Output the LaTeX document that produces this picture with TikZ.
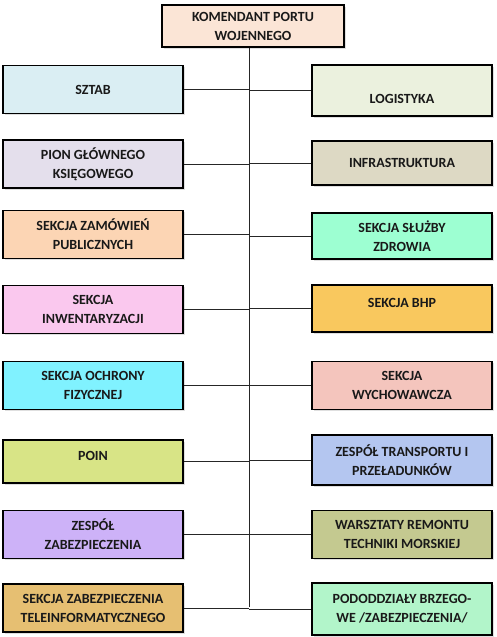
\documentclass[tikz,border=0pt]{standalone}
\usepackage{fontspec}
\setmainfont{Carlito}[BoldFont={Carlito Bold}]
\usetikzlibrary{shadows}

\definecolor{cTop}{HTML}{FBE5D6}
\definecolor{cSztab}{HTML}{DAEEF3}
\definecolor{cLogi}{HTML}{EBF1DE}
\definecolor{cPion}{HTML}{E4DFEC}
\definecolor{cInfra}{HTML}{DDD9C4}
\definecolor{cZam}{HTML}{FCD5B4}
\definecolor{cZdrow}{HTML}{9DFFD2}
\definecolor{cInwent}{HTML}{FAC8EE}
\definecolor{cBhp}{HTML}{F9C85E}
\definecolor{cOchr}{HTML}{80F2FF}
\definecolor{cWych}{HTML}{F4C5BD}
\definecolor{cPoin}{HTML}{D8E486}
\definecolor{cTransp}{HTML}{B4C6F0}
\definecolor{cZesp}{HTML}{CDB2F8}
\definecolor{cWarsz}{HTML}{C4C990}
\definecolor{cTele}{HTML}{E6BF72}
\definecolor{cPod}{HTML}{B2F5CA}

\tikzset{
  unit/.style={draw=black, line width=1.6pt, align=center, minimum width=180pt,
    minimum height=48pt, inner sep=2pt, text=black!90,
    font=\bfseries\fontsize{14}{19}\selectfont,
    drop shadow={shadow xshift=1.5pt, shadow yshift=-1.5pt, fill=black!25}},
  % single line text set higher or lower in its box
  textlow/.style={text height=26pt, text depth=0pt},
  texthigh/.style={text height=0pt, text depth=2pt},
  link/.style={draw=black!85, line width=0.8pt}
}

\begin{document}
\begin{tikzpicture}[x=1pt, y=-1pt]
  \useasboundingbox (0,0) rectangle (497,637);

  % head of the structure
  \node[unit, fill=cTop, minimum width=182pt, minimum height=42pt] (kpw) at (253,26) {KOMENDANT PORTU\\WOJENNEGO};

  % left column
  \node[unit, fill=cSztab] (sztab) at (93,89.5) {SZTAB};
  \node[unit, fill=cPion] (pion) at (93,164) {PION GŁÓWNEGO\\KSIĘGOWEGO};
  \node[unit, fill=cZam] (zam) at (93,234.5) {SEKCJA ZAMÓWIEŃ\\PUBLICZNYCH};
  \node[unit, fill=cInwent] (inwent) at (93,309.5) {SEKCJA\\INWENTARYZACJI};
  \node[unit, fill=cOchr] (ochr) at (93,385.5) {SEKCJA OCHRONY\\FIZYCZNEJ};
  \node[unit, texthigh, fill=cPoin, minimum height=43pt] (poin) at (93,461.5) {POIN};
  \node[unit, fill=cZesp] (zesp) at (93,534.5) {ZESPÓŁ\\ZABEZPIECZENIA};
  \node[unit, fill=cTele] (tele) at (93,608) {SEKCJA ZABEZPIECZENIA\\TELEINFORMATYCZNEGO};

  % right column
  \node[unit, textlow, fill=cLogi, minimum height=51pt] (logi) at (402,90.5) {LOGISTYKA};
  \node[unit, fill=cInfra, minimum height=44pt] (infra) at (402,163) {INFRASTRUKTURA};
  \node[unit, fill=cZdrow, minimum height=46pt] (zdrow) at (402,236) {SEKCJA SŁUŻBY\\ZDROWIA};
  \node[unit, texthigh, fill=cBhp, minimum height=47pt] (bhp) at (402,308.5) {SEKCJA BHP};
  \node[unit, fill=cWych] (wych) at (402,385.5) {SEKCJA\\WYCHOWAWCZA};
  \node[unit, fill=cTransp, minimum height=50pt] (transp) at (402,460) {ZESPÓŁ TRANSPORTU I\\PRZEŁADUNKÓW};
  \node[unit, fill=cWarsz] (warsz) at (402,534.5) {WARSZTATY REMONTU\\TECHNIKI MORSKIEJ};
  \node[unit, fill=cPod, minimum height=52pt] (pod) at (402,609) {PODODDZIAŁY BRZEGO-\\WE /ZABEZPIECZENIA/};

  % main vertical line
  \coordinate (spine) at (249,607);
  \draw[link] (kpw.south -| spine) -- (spine);

  % branches to the units
  \foreach \n in {sztab,pion,zam,inwent,ochr,poin,zesp,tele}
    \draw[link] (\n.east) -- (\n.east -| spine);
  \foreach \n in {logi,infra,zdrow,bhp,wych,transp,warsz,pod}
    \draw[link] (\n.west) -- (\n.west -| spine);
\end{tikzpicture}
\end{document}
